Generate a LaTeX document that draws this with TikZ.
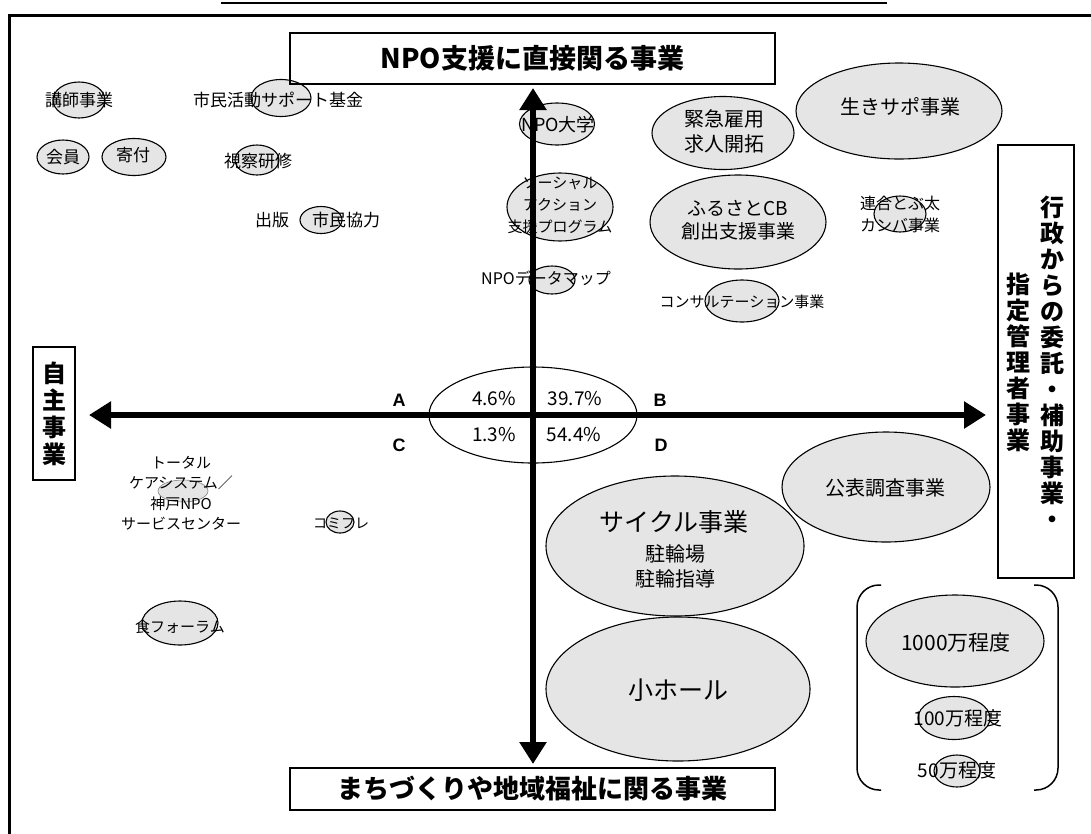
\documentclass[tikz,border=0pt]{standalone}
\usepackage{fontspec}
\setmainfont{Noto Sans CJK JP}
\newfontfamily\latfont{Liberation Sans}
\usetikzlibrary{arrows.meta,shapes.geometric}
\definecolor{blobgray}{RGB}{229,229,229}
\newcommand\fsz[2]{\fontsize{#1}{#2}\selectfont}
\newcommand\myell[4]{\node[blob,minimum width=#3pt,minimum height=#4pt] (#1) at (#2) {};}
\begin{document}
\begin{tikzpicture}[x=1pt,y=-1pt,
 blob/.style={ellipse,draw=black,line width=1.1pt,fill=blobgray,inner sep=0pt},
 faintblob/.style={ellipse,draw=gray,line width=0.6pt,fill=blobgray,inner sep=0pt},
 txt/.style={inner sep=0pt,align=center},
 boxed/.style={draw=black,line width=1.3pt,inner sep=0pt,align=center},
 axis/.style={line width=6pt,{Triangle[length=22pt,width=26pt]}-{Triangle[length=22pt,width=26pt]}},
 pct/.style={inner sep=0pt,font=\fsz{19}{22}},
 quad/.style={inner sep=0pt,font=\latfont\bfseries\fsz{18}{20}},
]
\useasboundingbox (0,0) rectangle (1091,833);
% outer frame and top rule
\coordinate (fr1) at (9,840);
\coordinate (fr2) at (9,15);
\coordinate (fr3) at (1100,15);
\draw[line width=3pt] (fr1) -- (fr2) -- (fr3);
\coordinate (tl1) at (221,3);
\coordinate (tl2) at (887,3);
\draw[line width=1.5pt] (tl1) -- (tl2);

% ellipses
\myell{ekoushi}{79,100}{52}{36}
\myell{ekikin}{281,98}{60}{37}
\myell{ekaiin}{63,157}{52}{34}
\myell{ekifu}{134,157}{64}{37}
\myell{eshisatsu}{257,160}{44}{30}
\myell{ekyoryoku}{321,220}{42}{27}
\myell{enpodai}{557,124}{75}{42}
\myell{esocial}{560,207}{106}{68}
\myell{edatamap}{552,280}{46}{28}
\myell{ekinkyu}{723,133}{142}{73}
\myell{eikisapo}{899,111}{206}{96}
\myell{efurusato}{738,222}{176}{94}
\myell{etobuta}{900,214}{52}{36}
\myell{econsul}{742,301}{74}{42}
\node[faintblob,minimum width=50pt,minimum height=22pt] (ecare) at (183,491) {};
\myell{ekomi}{340,522}{28}{22}
\myell{eshoku}{180,623}{76}{44}
\myell{ekoho}{886,487}{208}{110}
\myell{ecycle}{675,546}{258}{140}
\myell{ehall}{678,689}{264}{144}
\myell{ea}{955,641}{178}{92}
\myell{eb}{954,718}{72}{43}
\myell{ec}{957,771}{46}{32}
\node[ellipse,draw=black,line width=1.1pt,inner sep=0pt,minimum width=208pt,minimum height=96pt] (ecenter) at (533,415) {};

% axes
\coordinate (vtop) at (533,88);
\coordinate (vbot) at (533,764);
\coordinate (hl) at (89,415);
\coordinate (hr) at (986,415);
\draw[axis] (vbot) -- (vtop);
\draw[axis] (hl) -- (hr);

% title boxes
\node[boxed,minimum width=485pt,minimum height=51pt,font=\bfseries\fsz{27}{30}] (topbox) at (532.5,58.5) {NPO支援に直接関る事業};
\node[boxed,minimum width=485pt,minimum height=42pt,font=\bfseries\fsz{26}{30}] (botbox) at (532.5,789) {まちづくりや地域福祉に関る事業};
\node[boxed,minimum width=42pt,minimum height=133pt,font=\bfseries\fsz{24}{27}] (leftbox) at (54,413.5) {自\\主\\事\\業};
\node[boxed,minimum width=76pt,minimum height=433pt] (rightbox) at (1036,361.5) {};
\node[txt,font=\bfseries\fsz{24}{26}] (rcol1) at (1052,362) {行\\政\\か\\ら\\の\\委\\託\\・\\補\\助\\事\\業\\・};
\node[txt,font=\bfseries\fsz{24}{26}] (rcol2) at (1018,362) {指\\定\\管\\理\\者\\事\\業};

% quadrant letters and shares
\node[quad] (qa) at (399,400) {A};
\node[quad] (qb) at (660,400) {B};
\node[quad] (qc) at (399,445) {C};
\node[quad] (qd) at (661,445) {D};
\node[pct] (pa) at (494,399) {4.6\%};
\node[pct] (pb) at (575,399) {39.7\%};
\node[pct] (pc) at (494,435) {1.3\%};
\node[pct] (pd) at (574,435) {54.4\%};

% texts
\node[txt,font=\fsz{17}{20}] (tkoushi) at (79,100) {講師事業};
\node[txt,font=\fsz{17}{20}] (tkikin) at (278,100) {市民活動サポート基金};
\node[txt,font=\fsz{17}{20}] (tkaiin) at (63,157) {会員};
\node[txt,font=\fsz{17}{20}] (tkifu) at (133,155) {寄付};
\node[txt,font=\fsz{17}{20}] (tshisatsu) at (258,161) {視察研修};
\node[txt,font=\fsz{17}{20}] (tshuppan) at (272,220) {出版};
\node[txt,font=\fsz{17}{20}] (tkyoryoku) at (346,220) {市民協力};
\node[txt,font=\fsz{18}{20}] (tnpodai) at (558,125) {NPO大学};
\node[txt,font=\fsz{15}{22}] (tsocial) at (560,205) {ソーシャル\\アクション\\支援プログラム};
\node[txt,font=\fsz{16}{20}] (tdatamap) at (546,278) {NPOデータマップ};
\node[txt,font=\fsz{20}{25}] (tkinkyu) at (724,131) {緊急雇用\\求人開拓};
\node[txt,font=\fsz{20}{24}] (tikisapo) at (900,107) {生きサポ事業};
\node[txt,font=\fsz{19}{23}] (tfurusato) at (738,220) {ふるさとCB\\創出支援事業};
\node[txt,font=\fsz{16}{22}] (ttobuta) at (900,214) {連合とぶ太\\カンバ事業};
\node[txt,font=\fsz{15}{18}] (tconsul) at (742,302) {コンサルテーション事業};
\node[txt,font=\fsz{15}{20.5}] (tcare) at (181,493) {トータル\\ケアシステム／\\神戸NPO\\サービスセンター};
\node[txt,font=\fsz{14}{16}] (tkomi) at (341,523) {コミフレ};
\node[txt,font=\fsz{15}{18}] (tshoku) at (180,627) {食フォーラム};
\node[txt,font=\fsz{20}{24}] (tkoho) at (885,488) {公表調査事業};
\node[txt,font=\fsz{25}{28}] (tcycle) at (674,522) {サイクル事業};
\node[txt,font=\fsz{20}{25}] (tcycle2) at (675,566) {駐輪場\\駐輪指導};
\node[txt,font=\fsz{25}{28}] (thall) at (678,690) {小ホール};
\node[txt,font=\fsz{21}{24}] (ta) at (956,643) {1000万程度};
\node[txt,font=\fsz{19}{22}] (tb) at (958,718) {100万程度};
\node[txt,font=\fsz{19}{22}] (tc) at (957,770) {50万程度};

% legend brackets
\coordinate (lb1) at (881,585);
\coordinate (lb2) at (857,585);
\coordinate (lb3) at (857,790);
\coordinate (lb4) at (881,790);
\draw[line width=1.5pt,rounded corners=22pt] (lb1) -- (lb2) -- (lb3) -- (lb4);
\coordinate (rb1) at (1034,585);
\coordinate (rb2) at (1058,585);
\coordinate (rb3) at (1058,790);
\coordinate (rb4) at (1034,790);
\draw[line width=1.5pt,rounded corners=22pt] (rb1) -- (rb2) -- (rb3) -- (rb4);
\end{tikzpicture}
\end{document}
